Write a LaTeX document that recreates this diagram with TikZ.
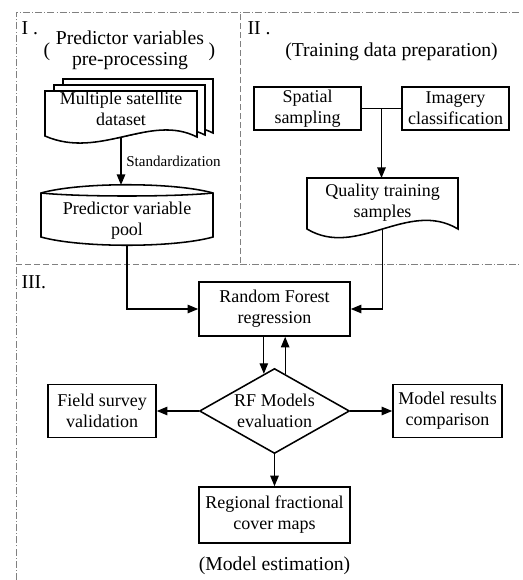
\documentclass[tikz,border=0pt]{standalone}
\usepackage{fontspec}
\setmainfont{Liberation Serif}
\usetikzlibrary{positioning, calc, arrows.meta, shapes.geometric}

\begin{document}
\begin{tikzpicture}[x=0.025cm, y=-0.025cm, thick,
    box/.style={draw, line width=1.1pt, align=center, inner sep=1pt, font=\fontsize{12.8}{15}\selectfont},
    decision/.style={diamond, draw, line width=1.1pt, aspect=1.76, inner sep=0pt, align=center, font=\fontsize{12.8}{15}\selectfont},
    txt/.style={align=center, inner sep=0pt, font=\fontsize{12.8}{15}\selectfont},
    headtxt/.style={align=center, inner sep=0pt, font=\fontsize{14}{15}\selectfont},
    outline/.style={line width=1.1pt},
    arr/.style={-{Triangle[length=7.5pt,width=6pt]}, line width=0.9pt},
    regionline/.style={gray, line width=0.6pt, dash pattern=on 5pt off 1.5pt on 0.7pt off 1.5pt},
    regionlineI/.style={gray, line width=0.6pt, dash pattern=on 4.3pt off 2.1pt}]

    \useasboundingbox (0,0) rectangle (523,580);

    % --- Region frames ---
    \draw[regionline] (16,580) -- (16,12) -- (520,12);
    \draw[regionline] (240,264) -- (520,264);
    \draw[regionlineI] (16,264) -- (240,264) -- (240,12);

    % --- Part I: predictor variables ---
    \node[headtxt, anchor=west] (p1) at (21,28) {I .};
    \node[headtxt] (p1t) at (130,50) {Predictor variables\\pre-processing};
    \node[headtxt] (p1l) at (47,52) {(};
    \node[headtxt] (p1r) at (212,52) {)};

    % --- Stacked satellite sheets (back to front) ---
    \foreach \k in {2,1} {
        \draw[outline, fill=white] (45+9*\k,136-2*\k) -- (45+9*\k,91-6*\k) -- (197+8*\k,91-6*\k) -- (197+8*\k,137-2*\k)
            .. controls (150+8*\k,113-2*\k) and (100+8*\k,160-2*\k) .. (45+9*\k,136-2*\k) -- cycle;
    }
    \draw[outline, fill=white] (45,136) -- (45,91) -- (197,91) -- (197,137)
        .. controls (150,113) and (100,160) .. (45,136) -- cycle;
    \node[txt] (sat) at (121,109) {Multiple satellite\\dataset};
    \coordinate (sat-b) at (121,137);

    % --- Predictor variable pool (cylinder) ---
    \draw[outline] (41,193) .. controls (80,182) and (174,182) .. (213,193) -- (213,237)
        .. controls (174,248) and (80,248) .. (41,237) -- cycle;
    \draw[outline] (41,193) .. controls (80,197) and (174,197) .. (213,193);
    \node[txt] (pool) at (127,221) {Predictor variable\\pool};
    \coordinate (pool-t) at (121,185);
    \coordinate (pool-b) at (127,245);

    \draw[arr] (sat-b) -- (pool-t) node[midway, right, font=\fontsize{10.7}{12}\selectfont] (std) {Standardization};

    % --- Part II: training data ---
    \node[headtxt, anchor=west] (p2) at (247,28) {II .};
    \node[headtxt] (p2t) at (391.5,52) {(Training data preparation)};
    \node[box, minimum width=2.675cm, minimum height=1.075cm] (spat) at (307.5,108.5) {Spatial\\sampling};
    \node[box, minimum width=2.675cm, minimum height=1.075cm] (imag) at (455.5,108.5) {Imagery\\classification};

    \draw[outline, fill=white] (307,229) -- (307,178) -- (458,178) -- (458,229)
        .. controls (408,199) and (357,259) .. (307,229) -- cycle;
    \node[txt] (train) at (382.5,203) {Quality training\\samples};
    \coordinate (train-t) at (382.5,178);
    \coordinate (train-b) at (382.5,229);

    \coordinate (jn) at ($(spat.east)!0.5!(imag.west)$);
    \draw[line width=0.9pt] (spat.east) -- (imag.west);
    \draw[arr] (jn) -- (jn |- train-t);

    % --- Part III: model estimation ---
    \node[headtxt, anchor=west] (p3) at (21,282) {III.};
    \node[box, minimum width=3.775cm, minimum height=1.35cm] (rf) at (274.5,309) {Random Forest\\regression};
    \node[decision, minimum width=3.75cm, minimum height=2.125cm] (eval) at (274.5,411) {RF Models\\evaluation};
    \node[box, minimum width=2.7cm, minimum height=1.325cm] (field) at (102,411) {Field survey\\validation};
    \node[box, minimum width=2.725cm, minimum height=1.325cm] (comp) at (447.5,411) {Model results\\comparison};
    \node[box, minimum width=3.775cm, minimum height=1.4cm] (maps) at (274.5,515) {Regional fractional\\cover maps};
    \node[headtxt] (p3t) at (274.5,566) {(Model estimation)};

    % --- Connectors ---
    \draw[arr] (pool-b) |- (rf.west);
    \draw[arr] (train-b) |- (rf.east);
    \draw[arr] (rf.south -| eval.106) -- (eval.106);
    \draw[arr] (eval.74) -- (rf.south -| eval.74);
    \draw[arr] (eval.west) -- (field.east);
    \draw[arr] (eval.east) -- (comp.west);
    \draw[arr] (eval.south) -- (maps.north);

\end{tikzpicture}
\end{document}
